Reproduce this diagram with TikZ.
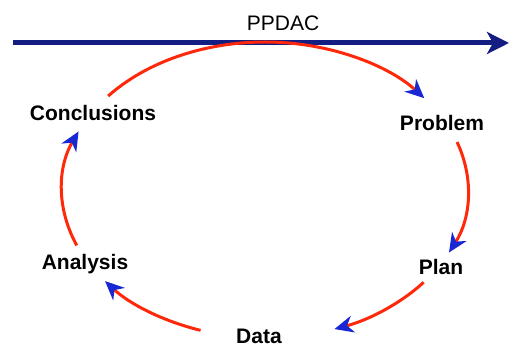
\documentclass[tikz,border=0pt]{standalone}
\usepackage{fontspec}
\setmainfont{Liberation Sans}
\usetikzlibrary{arrows.meta}
\definecolor{navy}{RGB}{20,30,130}
\definecolor{arcred}{RGB}{255,40,10}
\definecolor{tipblue}{RGB}{25,40,210}
\begin{document}
\begin{tikzpicture}[x=1pt,y=1pt,
  lbl/.style={font=\fontsize{21}{24}\selectfont\bfseries, inner sep=0pt, anchor=base},
  ttl/.style={font=\fontsize{21}{24}\selectfont, inner sep=0pt, anchor=base},
  cyc/.style={draw=arcred, line width=3pt, -{Stealth[length=19pt,width=17pt,inset=6pt,color=tipblue]}},
  ell/.style={x radius=203, y radius=148}]
\useasboundingbox (0,0) rectangle (510,347);
% labels
\node[ttl] (ppdac) at (283,316) {PPDAC};
\node[lbl] (conc) at (93,226) {Conclusions};
\node[lbl] (prob) at (442,216) {Problem};
\node[lbl] (plan) at (441,72) {Plan};
\node[lbl] (anal) at (85,77) {Analysis};
\node[lbl] (data) at (259,3) {Data};
% timeline
\coordinate (L) at (13,304);
\coordinate (R) at (509,304);
\draw[navy, line width=5pt, -{Stealth[length=22pt,width=22pt,inset=6pt]}] (L) -- (R);
% cycle
\coordinate (O) at (265,157);
\path (O) ++(140.6:203 and 148) coordinate (s1);
\path (O) ++(18.9:203 and 148) coordinate (s2);
\path (O) ++(-38.6:203 and 148) coordinate (s3);
\path (O) ++(-108.5:203 and 148) coordinate (s4);
\path (O) ++(-158:203 and 148) coordinate (s5);
\draw[cyc] (s1) arc[ell, start angle=140.6, end angle=38.3];
\draw[cyc] (s2) arc[ell, start angle=18.9, end angle=-25];
\draw[cyc] (s3) arc[ell, start angle=-38.6, end angle=-70];
\draw[cyc] (s4) arc[ell, start angle=-108.5, end angle=-142];
\draw[cyc] (s5) arc[ell, start angle=-158, end angle=-203.3];
\end{tikzpicture}
\end{document}
